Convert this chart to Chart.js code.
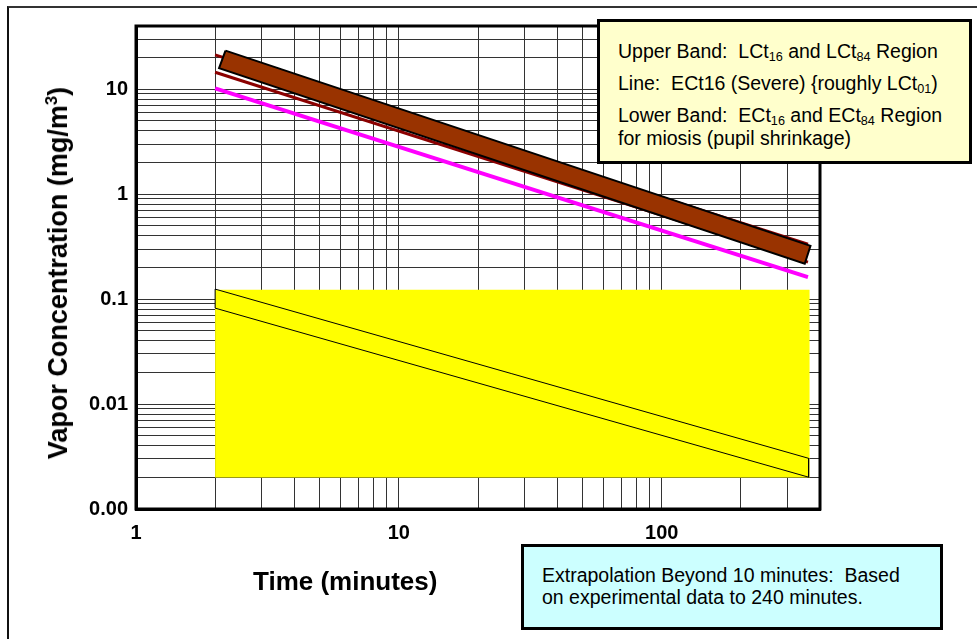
<!DOCTYPE html>
<html>
<head>
<meta charset="utf-8">
<script src="https://cdn.jsdelivr.net/npm/chart.js@4.4.0/dist/chart.umd.min.js"></script>
<style>
  body { margin: 0; background: #fff; font-family: "Liberation Sans", Arial, sans-serif; }
  #wrap { position: relative; width: 977px; height: 639px; overflow: hidden; }
  #frame { position: absolute; left: 7px; top: 6px; width: 1100px; height: 800px; border-top: 2px solid #333; border-left: 2px solid #111; }
  canvas { position: absolute; left: 0; top: 0; }
  .note { position: absolute; box-sizing: border-box; border: 3px solid #000; font-size: 19.5px; color: #000; }
  .note sub { font-size: 0.65em; line-height: 0; vertical-align: -0.2em; }
  .para { line-height: 23px; margin-bottom: 9px; white-space: nowrap; }
  .axisTitle { position: absolute; font-weight: bold; color: #000; white-space: nowrap; }
</style>
</head>
<body>
<div id="wrap">
  <div id="frame"></div>
  <canvas id="chart" width="977" height="639"></canvas>
  <div class="axisTitle" style="left:253px;top:566px;font-size:26px;line-height:30px;">Time (minutes)</div>
  <div class="axisTitle" style="left:58px;top:273px;font-size:27px;line-height:32px;transform:translate(-50%,-50%) rotate(-90deg);">Vapor Concentration (mg/m<sup style="font-size:0.62em;line-height:0;">3</sup>)</div>
  <div class="note" style="left:597px;top:19px;width:375px;height:145px;background:#ffffcc;padding:18px 0 0 18px;">
    <div class="para">Upper Band:&nbsp; LCt<sub>16</sub> and LCt<sub>84</sub> Region</div>
    <div class="para">Line:&nbsp; ECt16 (Severe) {roughly LCt<sub>01</sub>)</div>
    <div class="para">Lower Band:&nbsp; ECt<sub>16</sub> and ECt<sub>84</sub> Region<br>for miosis (pupil shrinkage)</div>
  </div>
  <div class="note" style="left:521px;top:544px;width:422px;height:86px;background:#ccffff;padding:17px 0 0 18px;line-height:22px;">
    Extrapolation Beyond 10 minutes:&nbsp; Based<br>on experimental data to 240 minutes.
  </div>
</div>
<script>
const xTickValues = [1, 10, 100];
const xTickLabels = ['1', '10', '100'];
const yTickValues = [0.001, 0.01, 0.1, 1, 10];
const yTickLabels = ['0.00', '0.01', '0.1', '1', '10'];

// upper band (LCt16 / LCt84 region), corners of the slanted bar
const lethalBandTime = [2.19, 368, 350, 2.07, 2.19];
const lethalBandConc = [23.3, 0.322, 0.217, 15.85, 23.3];

const lct84Time = [2, 360];
const lct84Conc = [21.2, 0.333];
const lct16Time = [2, 360];
const lct16Conc = [14.5, 0.225];

// ECt16 severe line
const severeTime = [2, 360];
const severeConc = [10.2, 0.162];

// lower band (miosis) outline and the yellow area behind it
const miosisBandTime = [2, 362, 362, 2, 2];
const miosisBandConc = [0.1245, 0.00304, 0.00201, 0.082, 0.1245];
const miosisAreaTime = [2, 365, 365, 2];
const miosisAreaConc = [0.1226, 0.1226, 0.002, 0.002];

const toPoints = (xs, ys) => xs.map((x, i) => ({ x, y: ys[i] }));

// drop the in-between ticks (15, 150 ...) so only 1..9 per decade get grid lines
function keepWhole(scale) {
  scale.ticks = scale.ticks.filter(t => {
    const m = t.value / Math.pow(10, Math.floor(Math.log10(t.value) + 1e-9));
    return Math.abs(m - Math.round(m)) < 1e-6;
  });
}

function labelFor(values, labels) {
  return v => {
    const i = values.findIndex(t => Math.abs(v - t) / t < 1e-6);
    return i >= 0 ? labels[i] : '';
  };
}

const plotFrame = {
  id: 'plotFrame',
  afterDatasetsDraw(chart) {
    const { ctx, chartArea: a } = chart;
    ctx.save();
    ctx.lineWidth = 3;
    ctx.strokeStyle = '#000';
    ctx.strokeRect(a.left, a.top, a.right - a.left, a.bottom - a.top);
    ctx.restore();
  }
};

const tickFont = { family: '"Liberation Sans", Arial, sans-serif', size: 20, weight: 'bold' };

new Chart(document.getElementById('chart').getContext('2d'), {
  type: 'scatter',
  data: {
    datasets: [
      {
        label: 'LCt16 / LCt84 band',
        data: toPoints(lethalBandTime, lethalBandConc),
        showLine: true, fill: 'shape',
        borderColor: '#000', borderWidth: 2, backgroundColor: '#993300',
        pointRadius: 0
      },
      {
        label: 'LCt84',
        data: toPoints(lct84Time, lct84Conc),
        showLine: true, borderColor: '#8b0000', borderWidth: 3, pointRadius: 0
      },
      {
        label: 'LCt16',
        data: toPoints(lct16Time, lct16Conc),
        showLine: true, borderColor: '#8b0000', borderWidth: 3, pointRadius: 0
      },
      {
        label: 'ECt16 (Severe)',
        data: toPoints(severeTime, severeConc),
        showLine: true, borderColor: '#ff00ff', borderWidth: 4, pointRadius: 0
      },
      {
        label: 'ECt16 / ECt84 miosis',
        data: toPoints(miosisBandTime, miosisBandConc),
        showLine: true, borderColor: '#000', borderWidth: 1, pointRadius: 0
      },
      {
        label: 'miosis area',
        data: toPoints(miosisAreaTime, miosisAreaConc),
        showLine: true, fill: 'shape',
        borderWidth: 0, borderColor: 'rgba(0,0,0,0)', backgroundColor: '#ffff00',
        pointRadius: 0
      }
    ]
  },
  options: {
    responsive: false,
    animation: false,
    devicePixelRatio: 1,
    layout: { padding: { left: 0, top: 26, right: 157, bottom: 70 } },
    plugins: { legend: { display: false }, tooltip: { enabled: false } },
    scales: {
      x: {
        type: 'logarithmic', min: 1, max: 400,
        afterFit: s => { s.height = 60; },
        afterBuildTicks: keepWhole,
        grid: { color: '#333', lineWidth: 1, drawTicks: false },
        border: { color: '#000', width: 3 },
        ticks: { autoSkip: false, maxRotation: 0, padding: 12, color: '#000', font: tickFont,
                 callback: labelFor(xTickValues, xTickLabels) }
      },
      y: {
        type: 'logarithmic', min: 0.001, max: 40,
        afterFit: s => { s.width = 136; },
        afterBuildTicks: keepWhole,
        grid: { color: '#333', lineWidth: 1, drawTicks: false },
        border: { color: '#000', width: 3 },
        ticks: { autoSkip: false, padding: 8, color: '#000', font: tickFont,
                 callback: labelFor(yTickValues, yTickLabels) }
      }
    }
  },
  plugins: [plotFrame]
});
</script>
</body>
</html>
